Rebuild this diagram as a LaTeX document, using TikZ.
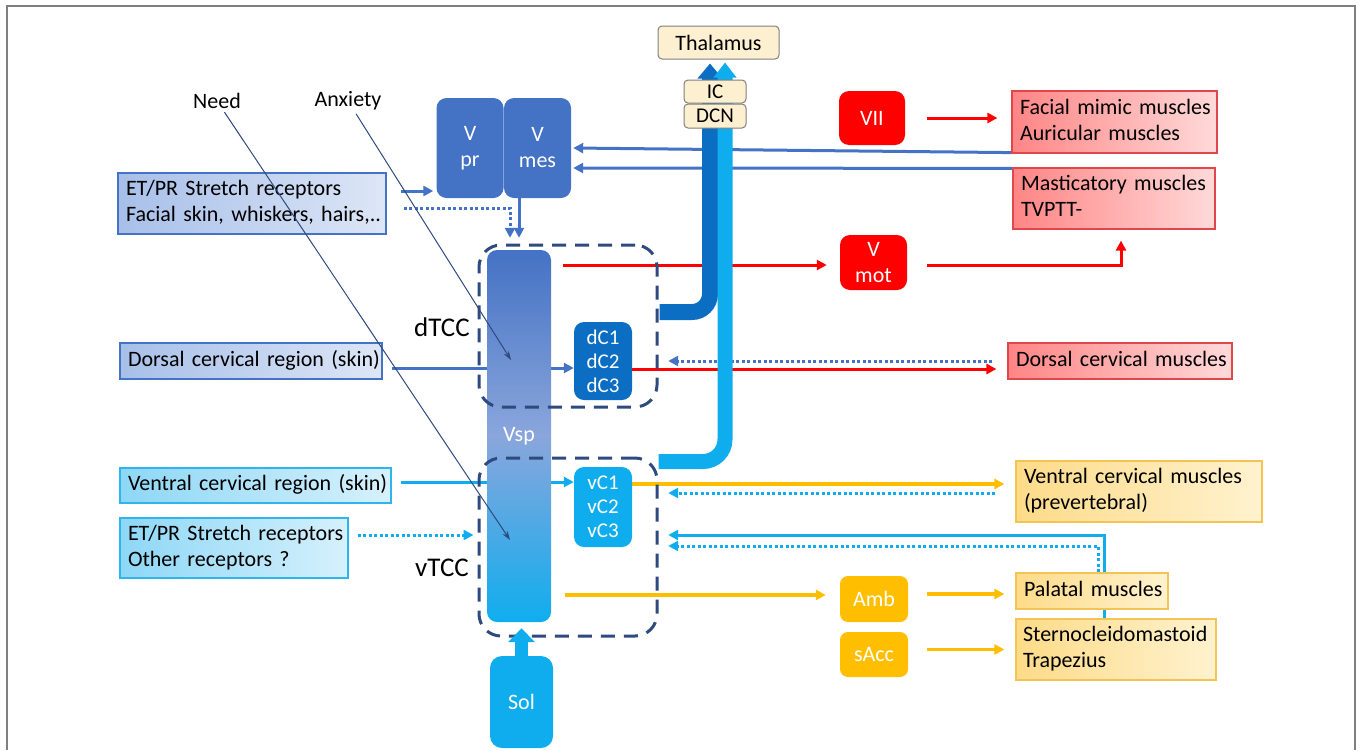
\documentclass[tikz,border=0pt]{standalone}
\usepackage{fontspec}
\setmainfont{Carlito}
\usepackage{tikz}
\usetikzlibrary{arrows.meta, calc, positioning}
\definecolor{vblue}{HTML}{4472C4}
\definecolor{dblue}{HTML}{0B6EC3}
\definecolor{lblue}{HTML}{0FADEE}
\definecolor{vmid}{HTML}{8AA6DC}
\definecolor{navy}{HTML}{2E4A7E}
\definecolor{amber}{HTML}{FFBF00}
\definecolor{beige}{HTML}{FDF0D0}
\definecolor{skinL}{HTML}{A7BFE9}
\definecolor{skinR}{HTML}{DDE6F6}
\definecolor{vskinL}{HTML}{8DD7F6}
\definecolor{vskinR}{HTML}{D6F1FC}
\definecolor{vskinD}{HTML}{2FB5EB}
\definecolor{musL}{HTML}{FF8585}
\definecolor{musR}{HTML}{FFD9D9}
\definecolor{musD}{HTML}{E0474C}
\definecolor{ambL}{HTML}{FDDB88}
\definecolor{ambR}{HTML}{FFF2CF}
\definecolor{ambD}{HTML}{F3C453}
\definecolor{framegray}{HTML}{7F7F7F}
\newcommand\stacklines[1]{\begin{tabular}{@{}l@{}}#1\end{tabular}}
\pgfdeclarelayer{back}
\pgfdeclarelayer{mid}
\pgfsetlayers{back,mid,main}

\begin{document}
\begin{tikzpicture}[x=1pt,y=-1pt,
   every node/.style={font=\fontsize{22}{26}\selectfont},
   nucleus/.style={rounded corners=10pt, text=white, align=center, inner sep=0pt},
   txtbox/.style={line width=1.2pt, align=left, inner xsep=8pt, inner ysep=0pt},
   skinbox/.style={txtbox, draw=vblue, left color=skinL, right color=skinR},
   vskinbox/.style={txtbox, draw=vskinD, left color=vskinL, right color=vskinR},
   redbox/.style={txtbox, draw=musD, left color=musL, right color=musR},
   ambbox/.style={txtbox, draw=ambD, left color=ambL, right color=ambR},
   relay/.style={draw=framegray, fill=beige, rounded corners=4pt, inner sep=0pt, line width=1pt},
   tccbox/.style={draw=navy, line width=3pt, dash pattern=on 14pt off 9pt,
      rounded corners=22pt, minimum width=178pt, inner sep=0pt},
   tcclabel/.style={font=\fontsize{27}{30}\selectfont},
   tip/.style={-{Triangle[length=10pt,width=10pt]}},
   bluearr/.style={draw=vblue, line width=3pt, tip},
   bluedot/.style={bluearr, dash pattern=on 3pt off 2.5pt},
   lbluearr/.style={draw=lblue, line width=3pt, tip},
   lbluedot/.style={lbluearr, dash pattern=on 3pt off 2.5pt},
   redarr/.style={draw=red, line width=3pt, tip},
   ambarr/.style={draw=amber, line width=3.3pt, tip},
   thinarr/.style={draw=navy, line width=1pt, -{Stealth[length=9pt,width=6pt]}}]
\useasboundingbox (0,0) rectangle (1357,750);
\draw[framegray, line width=1.5pt] (7,750) -- (7,6) -- (1355,6) -- (1355,750);

\node[relay, minimum width=121pt, minimum height=33pt] (thal) at (718.5,42.5) {Thalamus};
\node[relay, minimum width=62pt, minimum height=23pt, font=\fontsize{21}{24}\selectfont] (ic) at (715,91.5) {IC};
\node[relay, minimum width=62pt, minimum height=24pt, font=\fontsize{21}{24}\selectfont] (dcn) at (715,116) {DCN};

\node[nucleus, fill=vblue, minimum width=67pt, minimum height=100pt] (vpr) at (470,148) {V\\pr};
\node[nucleus, fill=vblue, minimum width=67pt, minimum height=100pt] (vmes) at (537.5,148) {V\\mes};
\node[nucleus, top color=vblue, bottom color=lblue, middle color=vmid,
   minimum width=64pt, minimum height=372pt] (vsp) at (519,436) {Vsp};
\node[nucleus, fill=dblue, minimum width=58pt, minimum height=78pt, font=\fontsize{21}{24}\selectfont] (dc) at (603,361) {dC1\\dC2\\dC3};
\node[nucleus, fill=lblue, minimum width=58pt, minimum height=80pt, font=\fontsize{21}{24}\selectfont] (vc) at (603,507) {vC1\\vC2\\vC3};
\node[nucleus, fill=lblue, minimum width=63pt, minimum height=92pt, rounded corners=12pt] (sol) at (521.5,702) {Sol};
\node[nucleus, fill=red, minimum width=66pt, minimum height=54pt] (vii) at (872,118) {VII};
\node[nucleus, fill=red, minimum width=67pt, minimum height=55pt] (vmot) at (873.5,262.5) {V\\mot};
\node[nucleus, fill=amber, minimum width=68pt, minimum height=46pt, rounded corners=8pt] (amb) at (874,599) {Amb};
\node[nucleus, fill=amber, minimum width=68pt, minimum height=45pt, rounded corners=8pt] (sacc) at (874,654.5) {sAcc};

\node[skinbox, text width=252pt, minimum height=61pt] (etpr1) at (252,203.5) {\stacklines{ET/PR Stretch receptors\\Facial skin, whiskers, hairs,..}};
\node[skinbox, text width=246pt, minimum height=36pt] (dorsal) at (251,361) {\stacklines{Dorsal cervical region (skin)}};
\node[vskinbox, text width=255pt, minimum height=35pt] (ventral) at (255.5,485.5) {\stacklines{Ventral cervical region (skin)}};
\node[vskinbox, text width=212pt, minimum height=60pt] (etpr2) at (234,548) {\stacklines{ET/PR Stretch receptors\\Other receptors ?}};
\node[redbox, text width=189pt, minimum height=62pt] (facial) at (1114.5,122) {\stacklines{Facial mimic muscles\\Auricular muscles}};
\node[redbox, text width=186pt, minimum height=61pt] (mastic) at (1114,198.5) {\stacklines{Masticatory muscles\\TVPTT-}};
\node[redbox, text width=208pt, minimum height=36pt] (dmus) at (1120,361) {\stacklines{Dorsal cervical muscles}};
\node[ambbox, text width=230pt, minimum height=61pt] (vmus) at (1139,491.5) {\stacklines{Ventral cervical muscles\\(prevertebral)}};
\node[ambbox, text width=136pt, minimum height=36pt] (palatal) at (1092,591) {\stacklines{Palatal muscles}};
\node[ambbox, text width=186pt, inner xsep=7pt, minimum height=61pt] (sterno) at (1116,649.5) {\stacklines{Sternocleidomastoid\\Trapezius}};

\node[tccbox, minimum height=162pt] (dtcc) at (568,326) {};
\node[tccbox, minimum height=178pt] (vtcc) at (568,547) {};
\node[tcclabel] (dlab) at (442,327) {dTCC};
\node[tcclabel] (vlab) at (442,568) {vTCC};

\node (need) at (217,101) {Need};
\node (anx) at (348,101) {Anxiety};
\coordinate (needtip) at (510,540);
\coordinate (anxtip) at (511,360);

\begin{pgfonlayer}{back}
\draw[bluearr] ($(etpr1.east)+(14,-12.5)$) -- ($(vpr.west)+(-3,43)$);
\draw[bluedot] ($(etpr1.east)+(17,4.5)$) -| ($(vsp.north)+(-9,-12)$);
\draw[bluearr] (vmes.south -| vsp.north) -- ($(vsp.north)+(0,-12)$);
\draw[bluearr] ($(facial.south west)+(0,-1)$) -- ($(vmes.east)+(2,0)$);
\draw[bluearr] ($(mastic.north west)+(0,1)$) -- ($(vmes.east)+(2,20)$);
\draw[redarr] ($(vii.east)+(22,0)$) -- ($(facial.west |- vii.east)+(-14,0)$);
\draw[redarr] ($(vsp.east |- vmot.west)+(12,2.5)$) -- ($(vmot.west)+(-13,2.5)$);
\draw[redarr] ($(vmot.east)+(20,2.5)$) -| ($(mastic.south)+(7,11)$);
\draw[bluearr] ($(dorsal.east)+(9,7)$) -- ($(dc.west)+(0,7)$);
\draw[redarr] ($(dc.east)+(0,8)$) -- ($(dmus.west)+(-11,8)$);
\draw[bluedot] ($(dmus.west)+(-15,0)$) -- ($(dc.east)+(36,0)$);
\draw[lbluearr] ($(ventral.east)+(9,-3.5)$) -- ($(vc.west)+(0,-25)$);
\draw[lbluedot] ($(etpr2.east)+(9,-13)$) -- ($(etpr2.east -| vtcc.west)+(-4,-13)$);
\draw[ambarr] ($(vc.east)+(0,-23)$) -- ($(vmus.west)+(-11,-7.5)$);
\draw[lbluedot] ($(vmus.west)+(-20,1.5)$) -- ($(vc.east)+(36,-14)$);
\draw[lbluearr] ($(sterno.north)+(-12,0)$) |- ($(vc.east)+(36,28)$);
\draw[lbluedot] ($(palatal.north)+(6,0)$) |- ($(vc.east)+(36,39)$);
\draw[ambarr] ($(vsp.east |- amb.west)+(14,-4)$) -- ($(amb.west)+(-14,-4)$);
\draw[ambarr] ($(amb.east)+(19,-5)$) -- ($(palatal.west |- amb.east)+(-11,-5)$);
\draw[ambarr] ($(sacc.east)+(19,-5)$) -- ($(sterno.west |- sacc.east)+(-11,-5)$);
\end{pgfonlayer}

\begin{pgfonlayer}{mid}
\draw[dblue, line width=16pt, rounded corners=18pt, -{Triangle[width=24pt,length=15pt]}]
   ($(dtcc.east)+(1,-14)$) -| ($(ic.north)+(-5,-16)$);
\draw[lblue, line width=15pt, rounded corners=22pt, -{Triangle[width=22pt,length=15pt]}]
   ($(vtcc.north east)+(0,5)$) -| ($(ic.north)+(10,-17)$);
\end{pgfonlayer}

\draw[lblue, line width=13pt, -{Triangle[width=26pt,length=14pt]}] (sol.north) -- ($(sol.north |- vsp.south)+(0,6)$);
\draw[thinarr] (need) -- (needtip);
\draw[thinarr] (anx) -- (anxtip);
\end{tikzpicture}
\end{document}
